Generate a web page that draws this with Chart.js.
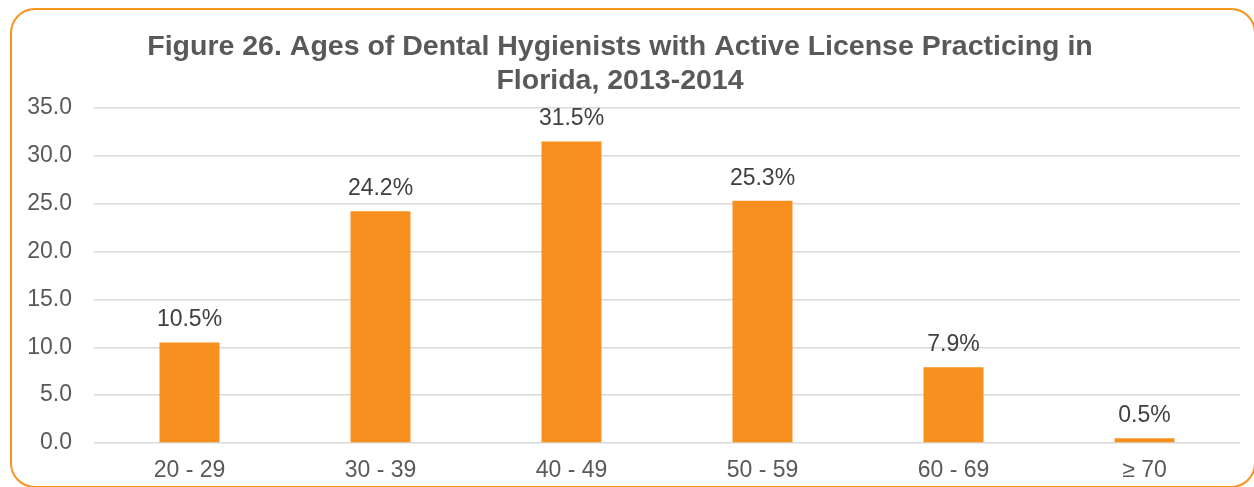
<!DOCTYPE html>
<html>
<head>
<meta charset="utf-8">
<script src="https://cdn.jsdelivr.net/npm/chart.js@4.4.1/dist/chart.umd.min.js"></script>
<style>
  html, body { margin: 0; padding: 0; background: #fff; }
  #wrap { position: relative; width: 1254px; height: 487px; overflow: hidden; }
  #frame { position: absolute; left: 10px; top: 8px; width: 1242px; height: 476px;
           border: 2.5px solid #F7941D; border-radius: 25px; pointer-events: none; }
  canvas { position: absolute; left: 0; top: 0; }
</style>
</head>
<body>
<div id="wrap">
  <canvas id="c" width="1254" height="487"></canvas>
  <div id="frame"></div>
</div>
<script>
const categories = ["20 - 29", "30 - 39", "40 - 49", "50 - 59", "60 - 69", "\u2265 70"];
const percentages = [10.5, 24.2, 31.5, 25.3, 7.9, 0.5];
const yTicks = [0, 5, 10, 15, 20, 25, 30, 35];
const titleLines = ["Figure 26. Ages of Dental Hygienists with Active License Practicing in", "Florida, 2013-2014"];

const FONT = "'Liberation Sans', Arial, sans-serif";

const labelPlugin = {
  id: 'barLabels',
  afterDatasetsDraw(chart) {
    const ctx = chart.ctx;
    const meta = chart.getDatasetMeta(0);
    ctx.save();
    ctx.font = "23px " + FONT;
    ctx.fillStyle = "#404040";
    ctx.textAlign = "center";
    ctx.textBaseline = "alphabetic";
    meta.data.forEach((bar, i) => {
      ctx.fillText(percentages[i].toFixed(1) + "%", bar.x, bar.y - 16);
    });
    ctx.restore();
  }
};

new Chart(document.getElementById('c'), {
  type: 'bar',
  data: {
    labels: categories,
    datasets: [{
      data: percentages,
      backgroundColor: '#F7901E',
      borderWidth: 0,
      categoryPercentage: 1.0,
      barPercentage: 0.314
    }]
  },
  options: {
    responsive: false,
    animation: false,
    devicePixelRatio: 1,
    layout: { padding: { left: 0, right: 14, top: 0, bottom: 0 } },
    plugins: {
      legend: { display: false },
      tooltip: { enabled: false },
      title: {
        display: true,
        text: titleLines,
        color: '#595959',
        font: { family: FONT, size: 28.5, weight: 'bold', lineHeight: 1.2 },
        padding: { top: 30, bottom: 9.5 }
      }
    },
    scales: {
      x: {
        grid: { display: false, drawTicks: false },
        border: { display: false },
        ticks: { color: '#595959', font: { family: FONT, size: 23 }, padding: 14 },
        afterFit(scale) { scale.height = 44; }
      },
      y: {
        min: 0, max: 35,
        afterBuildTicks(scale) { scale.ticks = yTicks.map(v => ({ value: v })); },
        grid: { color: '#D9D9D9', lineWidth: 1.5, drawTicks: false },
        border: { display: false },
        ticks: {
          color: '#595959',
          font: { family: FONT, size: 23 },
          padding: 22,
          callback: v => Number(v).toFixed(1)
        },
        afterFit(scale) { scale.width = 94; }
      }
    }
  },
  plugins: [labelPlugin]
});
</script>
</body>
</html>
